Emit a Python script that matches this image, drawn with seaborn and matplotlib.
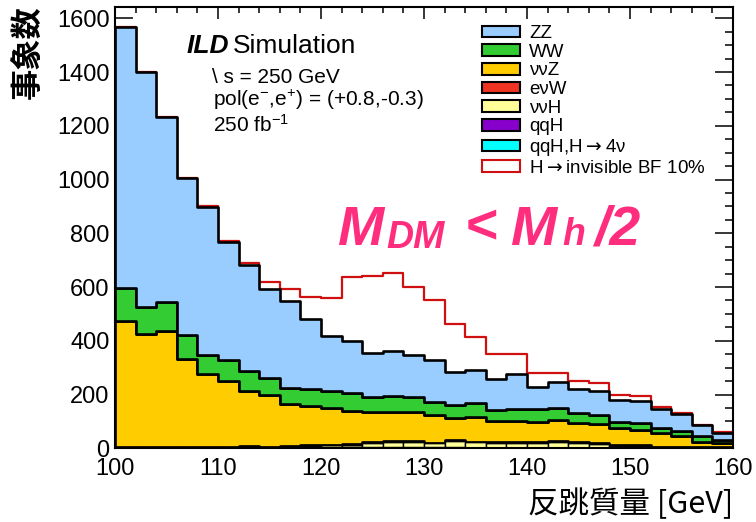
import numpy as np
import pandas as pd
import matplotlib
matplotlib.use("Agg")
import matplotlib.pyplot as plt
from matplotlib.patches import Patch
from matplotlib.ticker import MultipleLocator
from matplotlib.font_manager import FontProperties
import seaborn as sns

# ---------------- data (events per 2 GeV bin, 100-160 GeV) ----------------
mass_min, mass_max, bin_width = 100, 160, 2
processes = ["ZZ", "WW", "ννZ", "eνW", "ννH", "qqH", "qqH,H→4ν"]
legend_labels = ["ZZ", "WW", "ννZ", "eνW", "ννH", "qqH", "qqH,H${\\rightarrow}$4ν"]
zz = [973, 877, 688, 584, 552, 439, 393, 329, 322, 259, 205, 196, 161, 169, 155,
      155, 124, 121, 116, 131, 82, 95, 89, 90, 83, 82, 71, 66, 40, 26]
ww = [121, 99, 107, 89, 72, 79, 74, 64, 61, 64, 62, 64, 58, 58, 58,
      49, 49, 52, 39, 42, 48, 45, 37, 36, 24, 25, 19, 18, 21, 12]
vvz = [471, 421, 433, 327, 272, 248, 207, 192, 156, 146, 138, 124, 111, 110, 108,
       104, 82, 94, 80, 80, 76, 78, 70, 70, 63, 57, 52, 41, 22, 17]
evw = [2, 3, 2, 3, 2, 2, 3, 2, 2, 3, 2, 2, 3, 2, 2,
       2, 3, 2, 2, 2, 2, 2, 2, 2, 1, 1, 1, 1, 1, 1]
vvh = [0, 0, 0, 0, 0, 0, 3, 2, 3, 5, 8, 10, 16, 20, 20,
       15, 24, 20, 20, 20, 20, 24, 20, 16, 9, 9, 4, 3, 2, 2]
qqh = [1, 1, 1, 1, 1, 1, 1, 1, 2, 2, 2, 3, 3, 3, 3,
       2, 2, 2, 1, 1, 1, 1, 1, 1, 1, 1, 0, 0, 0, 0]
qqh4v = [0, 0, 0, 0, 0, 0, 0, 1, 1, 1, 1, 1, 1, 1, 1,
         1, 1, 0, 0, 0, 0, 0, 0, 0, 0, 0, 0, 0, 0, 0]
signal = [0, 0, 0, 0, 2, 4, 10, 29, 47, 84, 142, 238, 289, 288, 254,
          223, 179, 122, 94, 76, 51, 35, 30, 29, 19, 20, 8, 3, 2, 2]
signal_label = "H${\\rightarrow}$invisible BF 10%"

colors = {"ZZ": "#99CCFF", "WW": "#33CC33", "ννZ": "#FFCC00", "eνW": "#EE3322",
          "ννH": "#FFFF99", "qqH": "#8800CC", "qqH,H→4ν": "#00FFFF"}
signal_color = "#D01010"

centers = np.arange(mass_min, mass_max, bin_width) + bin_width / 2
series = [zz, ww, vvz, evw, vvh, qqh, qqh4v]
df = pd.DataFrame({
    "mass": np.tile(centers, len(processes)),
    "events": np.concatenate([np.asarray(s, float) for s in series]),
    "process": np.repeat(processes, len(centers)),
})
total_with_signal = np.sum([np.asarray(s, float) for s in series], axis=0) + np.asarray(signal, float)
df_sig = pd.DataFrame({"mass": centers, "events": total_with_signal})
hist_kw = dict(binwidth=bin_width, binrange=(mass_min, mass_max))

# ---------------- style ----------------
sns.set_theme(style="white")
plt.rcParams["font.family"] = ["Liberation Sans", "DejaVu Sans"]
plt.rcParams["mathtext.fontset"] = "custom"
plt.rcParams["mathtext.rm"] = "Liberation Sans"
plt.rcParams["mathtext.it"] = "Liberation Sans:italic"
plt.rcParams["mathtext.bf"] = "Liberation Sans:bold"
for k in ["text.color", "axes.labelcolor", "xtick.color", "ytick.color", "axes.edgecolor"]:
    plt.rcParams[k] = "black"

W, H = 756, 522
fig = plt.figure(figsize=(W / 100, H / 100), dpi=100)
ax = fig.add_axes([115 / W, (H - 448.3) / H, 618 / W, 441.6 / H])

def fp(x, y):
    return (x / W, 1 - y / H)

# signal on top of the stack (red outline)
sns.histplot(data=df_sig, x="mass", weights="events", element="step",
             fill=False, color=signal_color, linewidth=1.6, zorder=0.5, ax=ax, **hist_kw)

# stacked backgrounds
sns.histplot(data=df, x="mass", weights="events", hue="process", hue_order=processes,
             palette=colors, multiple="stack", element="step", fill=True,
             alpha=1, edgecolor="black", linewidth=1.9, legend=False, ax=ax, **hist_kw)

# small backgrounds at the bottom drawn as outlined bars
low = ["eνW", "ννH", "qqH", "qqH,H→4ν"]
sns.histplot(data=df[df["process"].isin(low)], x="mass", weights="events", hue="process",
             hue_order=low, palette=colors, multiple="stack", element="bars", fill=True,
             alpha=1, edgecolor="black", linewidth=1.0, legend=False, ax=ax, **hist_kw)

ax.set_xlim(mass_min, mass_max)
ax.set_ylim(0, 1643)

ax.xaxis.set_major_locator(MultipleLocator(10))
ax.xaxis.set_minor_locator(MultipleLocator(2))
ax.yaxis.set_major_locator(MultipleLocator(200))
ax.yaxis.set_minor_locator(MultipleLocator(50))
ax.tick_params(which="both", direction="in", top=True, right=True, bottom=True, left=True,
               width=1.1, colors="black", labelsize=17)
ax.tick_params(axis="x", which="major", length=8.6, pad=7)
ax.tick_params(axis="x", which="minor", length=4.3)
ax.tick_params(axis="y", which="major", length=13, pad=4)
ax.tick_params(axis="y", which="minor", length=6)
for sp in ax.spines.values():
    sp.set_visible(True)
    sp.set_color("black")
    sp.set_linewidth(1.5)
    sp.set_zorder(5)

ax.set_xlabel("反跳質量 [GeV]", fontsize=22, family=["Noto Sans CJK JP"],
              ha="right", va="center", color="black")
ax.xaxis.set_label_coords(1.0, -0.126)
ax.set_ylabel("事象数", fontsize=22.5, family=["Noto Sans CJK JP"], fontweight="bold",
              ha="center", va="center", color="black")
ax.yaxis.set_label_coords(-0.139, 0.897)

# header texts
fig.text(*fp(187, 53), "ILD", fontsize=19, fontweight="bold", style="italic", va="baseline")
fig.text(*fp(233, 53), "Simulation", fontsize=19, va="baseline")
fig.text(*fp(212, 83), "\\ s = 250 GeV", fontsize=15, va="baseline")
fig.text(*fp(213, 106), "pol(e$^{-}$,e$^{+}$) = (+0.8,-0.3)", fontsize=15, va="baseline")
fig.text(*fp(213, 132), "250 fb$^{-1}$", fontsize=15, va="baseline")

# pink annotation
pink = "#FF2D7D"
pieces = [("M", 337, 245, 40), ("DM", 386, 248, 27), ("<", 465, 243, 40),
          ("M", 510, 245, 40), ("h", 562, 245, 27), ("/2", 594, 245, 40)]
for txt, x, y, s in pieces:
    fig.text(*fp(x, y), txt, fontsize=s, fontweight="bold", style="italic",
             color=pink, va="baseline", ha="left")

# legend
handles = [Patch(facecolor=colors[p], edgecolor="black", linewidth=1.5, label=l)
           for p, l in zip(processes, legend_labels)]
handles.append(Patch(facecolor="white", edgecolor=signal_color, linewidth=1.5, label=signal_label))
leg_font = FontProperties(family=["Liberation Sans", "DejaVu Sans"], size=13.5,
                          math_fontfamily="dejavusans")
fig.legend(handles=handles, loc="upper left", bbox_to_anchor=fp(482, 25), frameon=False,
           prop=leg_font, handlelength=2.05, handleheight=0.58, handletextpad=0.45,
           labelspacing=0.09, borderpad=0, borderaxespad=0)

fig.savefig("out.png", dpi=100)
